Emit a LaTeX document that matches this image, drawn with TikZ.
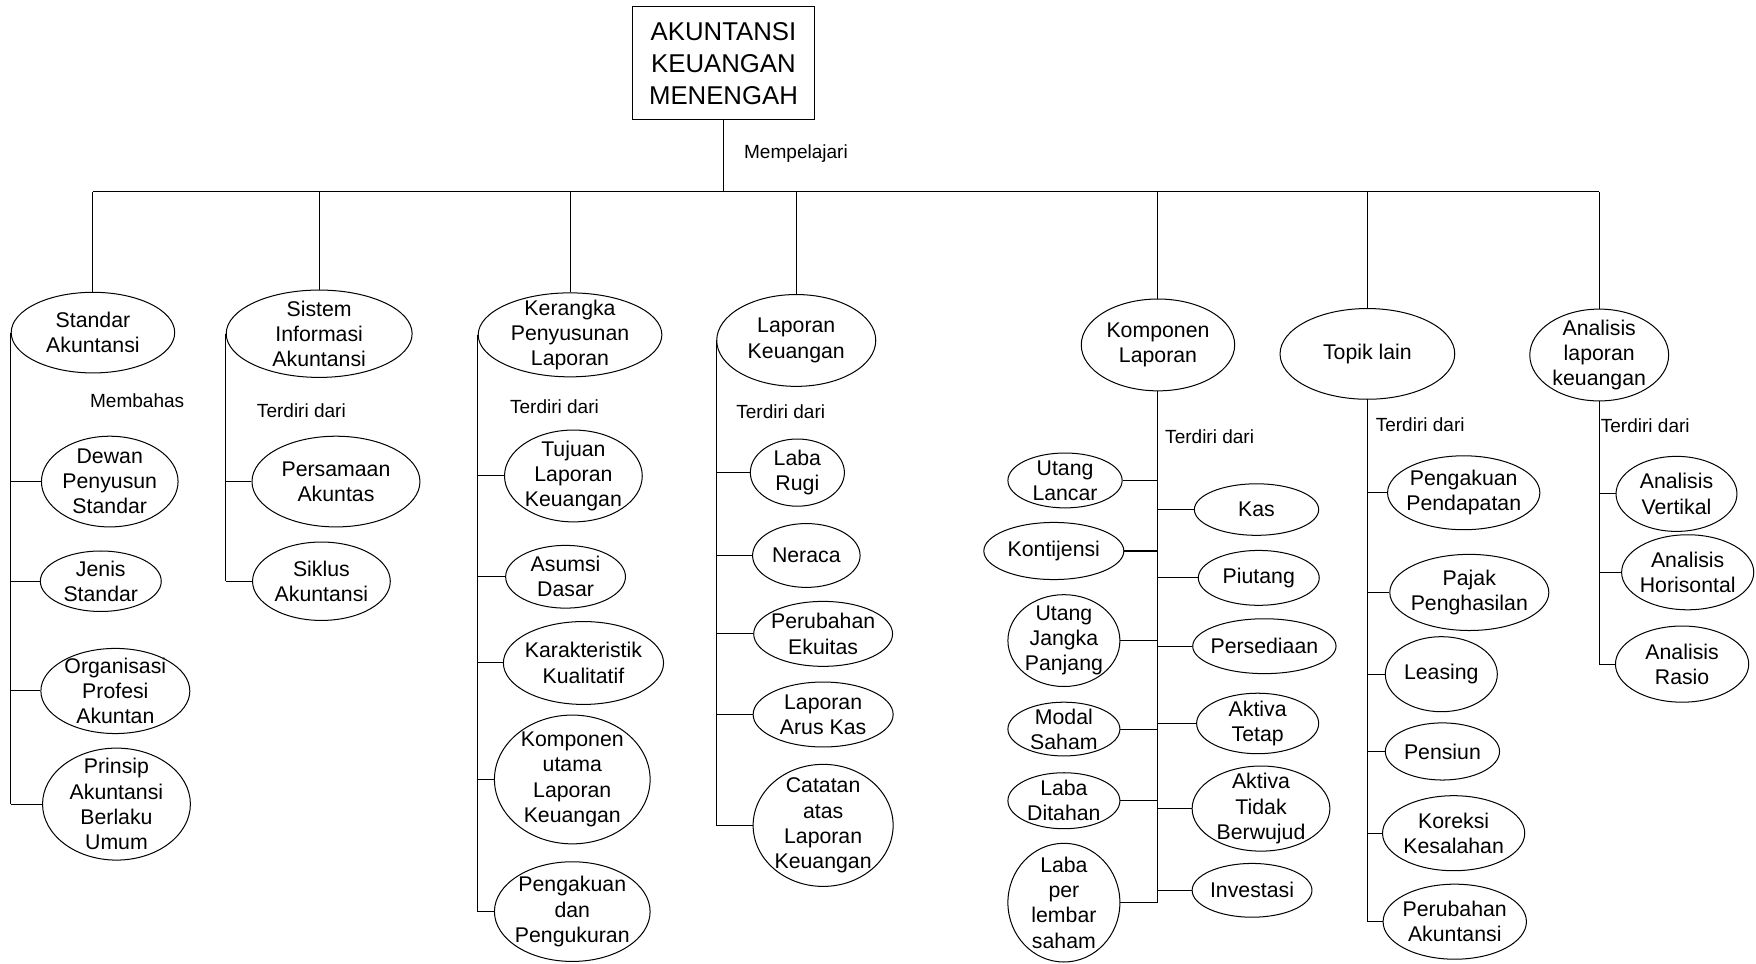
\documentclass[tikz,border=0pt]{standalone}
\usepackage{fontspec}
\setmainfont{Liberation Sans}
\usetikzlibrary{shapes.geometric}

\begin{document}
\begin{tikzpicture}[x=1pt,y=-1pt,line width=0.9pt,
	bubble/.style={shape=ellipse,draw=black,inner sep=-20pt,align=center,font=\fontsize{19}{22.5}\selectfont},
	remark/.style={anchor=west,inner sep=0pt,font=\fontsize{17}{20}\selectfont}]
	
	\useasboundingbox (0,0) rectangle (1568,860);
	
	\node[draw=black,minimum width=162pt,minimum height=101pt,inner sep=0pt,align=center,font=\fontsize{23}{28.5}\selectfont] (akm) at (646,56.5) {AKUNTANSI\\KEUANGAN\\MENENGAH};
	\coordinate (bus) at (646,171);
	\node[remark] (mp) at (664,137) {Mempelajari};
	
	\node[bubble,minimum width=146pt,minimum height=72pt] (sa) at (83,297) {Standar\\Akuntansi};
	\node[bubble,minimum width=166pt,minimum height=78pt] (sia) at (285,298) {Sistem\\Informasi\\Akuntansi};
	\node[bubble,minimum width=164pt,minimum height=75pt] (kpl) at (509,299) {Kerangka\\Penyusunan\\Laporan};
	\node[bubble,minimum width=142pt,minimum height=82pt] (lk) at (711,304) {Laporan\\Keuangan};
	\node[bubble,minimum width=137pt,minimum height=82pt] (kl) at (1034,308) {Komponen\\Laporan};
	\node[bubble,minimum width=156pt,minimum height=81pt] (tl) at (1221,316) {Topik lain};
	\node[bubble,minimum width=124pt,minimum height=82pt] (alk) at (1428,317) {Analisis\\laporan\\keuangan};
	
	\node[remark] (mb) at (80,358) {Membahas};
	\node[bubble,minimum width=122pt,minimum height=81pt] (dps) at (98,430) {Dewan\\Penyusun\\Standar};
	\node[bubble,minimum width=108pt,minimum height=54pt] (js) at (90,519) {Jenis\\Standar};
	\node[bubble,minimum width=133pt,minimum height=76pt] (opa) at (103,617) {Organisasi\\Profesi\\Akuntan};
	\node[bubble,minimum width=132pt,minimum height=100pt] (pabu) at (104,718) {Prinsip\\Akuntansi\\Berlaku\\Umum};
	
	\node[remark] (td1) at (229,367) {Terdiri dari};
	\node[bubble,minimum width=150pt,minimum height=81pt] (pa) at (300,430) {Persamaan\\Akuntas};
	\node[bubble,minimum width=123pt,minimum height=70pt] (sik) at (287,519) {Siklus\\Akuntansi};
	
	\node[remark] (td2) at (455,363) {Terdiri dari};
	\node[bubble,minimum width=123pt,minimum height=82pt] (tlk) at (512,425) {Tujuan\\Laporan\\Keuangan};
	\node[bubble,minimum width=107pt,minimum height=56pt] (ad) at (505,515) {Asumsi\\Dasar};
	\node[bubble,minimum width=143pt,minimum height=74pt] (kk) at (521,592) {Karakteristik\\Kualitatif};
	\node[bubble,minimum width=139pt,minimum height=115pt] (kulk) at (511,696) {Komponen\\utama\\Laporan\\Keuangan};
	\node[bubble,minimum width=139pt,minimum height=89pt] (pdp) at (511,814) {Pengakuan\\dan\\Pengukuran};
	
	\node[remark] (td3) at (657,368) {Terdiri dari};
	\node[bubble,minimum width=84pt,minimum height=60pt] (lr) at (712,422) {Laba\\Rugi};
	\node[bubble,minimum width=96pt,minimum height=57pt] (ner) at (720,496) {Neraca};
	\node[bubble,minimum width=124pt,minimum height=58pt] (pe) at (735,566) {Perubahan\\Ekuitas};
	\node[bubble,minimum width=125pt,minimum height=58pt] (lak) at (735,638) {Laporan\\Arus Kas};
	\node[bubble,minimum width=125pt,minimum height=109pt] (calk) at (735,737) {Catatan\\atas\\Laporan\\Keuangan};
	
	\node[remark] (td4) at (1040,390) {Terdiri dari};
	\node[bubble,minimum width=102pt,minimum height=49pt] (ul) at (951,429) {Utang\\Lancar};
	\node[bubble,minimum width=125pt,minimum height=51pt] (kon) at (941,492) {Kontijensi};
	\node[bubble,minimum width=100pt,minimum height=82pt] (ujp) at (950,572) {Utang\\Jangka\\Panjang};
	\node[bubble,minimum width=100pt,minimum height=48pt] (ms) at (950,651) {Modal\\Saham};
	\node[bubble,minimum width=100pt,minimum height=50pt] (ld) at (950,715) {Laba\\Ditahan};
	\node[bubble,minimum width=100pt,minimum height=106pt] (lpls) at (950,806) {Laba\\per\\lembar\\saham};
	\node[bubble,minimum width=111pt,minimum height=46pt] (kas) at (1122,455) {Kas};
	\node[bubble,minimum width=108pt,minimum height=49pt] (piu) at (1124,516) {Piutang};
	\node[bubble,minimum width=128pt,minimum height=49pt] (per) at (1129,577) {Persediaan};
	\node[bubble,minimum width=109pt,minimum height=54pt] (akt) at (1123,646) {Aktiva\\Tetap};
	\node[bubble,minimum width=123pt,minimum height=76pt] (atb) at (1126,722) {Aktiva\\Tidak\\Berwujud};
	\node[bubble,minimum width=107pt,minimum height=48pt] (inv) at (1118,795) {Investasi};
	
	\node[remark] (td5) at (1228,379) {Terdiri dari};
	\node[bubble,minimum width=136pt,minimum height=66pt] (pp) at (1307,440) {Pengakuan\\Pendapatan};
	\node[bubble,minimum width=142pt,minimum height=68pt] (pph) at (1312,529) {Pajak\\Penghasilan};
	\node[bubble,minimum width=100pt,minimum height=67pt] (lea) at (1287,602) {Leasing};
	\node[bubble,minimum width=102pt,minimum height=51pt] (pen) at (1288,671) {Pensiun};
	\node[bubble,minimum width=127pt,minimum height=67pt] (kor) at (1298,744) {Koreksi\\Kesalahan};
	\node[bubble,minimum width=128pt,minimum height=67pt] (pak) at (1299,823) {Perubahan\\Akuntansi};
	
	\node[remark] (td6) at (1429,380) {Terdiri dari};
	\node[bubble,minimum width=108pt,minimum height=67pt] (av) at (1497,441) {Analisis\\Vertikal};
	\node[bubble,minimum width=118pt,minimum height=67pt] (ah) at (1507,511) {Analisis\\Horisontal};
	\node[bubble,minimum width=119pt,minimum height=68pt] (ar) at (1502,593) {Analisis\\Rasio};
	
	\path[-] (akm.south) edge (bus);
	\path[-] (sa.north |- bus) edge (alk.north |- bus);
	\path[-] (sa.north) edge (sa.north |- bus);
	\path[-] (sia.north) edge (sia.north |- bus);
	\path[-] (kpl.north) edge (kpl.north |- bus);
	\path[-] (lk.north) edge (lk.north |- bus);
	\path[-] (kl.north) edge (kl.north |- bus);
	\path[-] (tl.north) edge (tl.north |- bus);
	\path[-] (alk.north) edge (alk.north |- bus);
	
	\path[-] (sa.west) edge (sa.west |- pabu.west);
	\path[-] (dps.west) edge (dps.west -| sa.west);
	\path[-] (js.west) edge (js.west -| sa.west);
	\path[-] (opa.west) edge (opa.west -| sa.west);
	\path[-] (pabu.west) edge (pabu.west -| sa.west);
	
	\path[-] (sia.west) edge (sia.west |- sik.west);
	\path[-] (pa.west) edge (pa.west -| sia.west);
	\path[-] (sik.west) edge (sik.west -| sia.west);
	
	\path[-] (kpl.west) edge (kpl.west |- pdp.west);
	\path[-] (tlk.west) edge (tlk.west -| kpl.west);
	\path[-] (ad.west) edge (ad.west -| kpl.west);
	\path[-] (kk.west) edge (kk.west -| kpl.west);
	\path[-] (kulk.west) edge (kulk.west -| kpl.west);
	\path[-] (pdp.west) edge (pdp.west -| kpl.west);
	
	\path[-] (lk.west) edge (lk.west |- calk.west);
	\path[-] (lr.west) edge (lr.west -| lk.west);
	\path[-] (ner.west) edge (ner.west -| lk.west);
	\path[-] (pe.west) edge (pe.west -| lk.west);
	\path[-] (lak.west) edge (lak.west -| lk.west);
	\path[-] (calk.west) edge (calk.west -| lk.west);
	
	\path[-] (kl.south) edge (kl.south |- lpls.east);
	\path[-] (ul.east) edge (ul.east -| kl.south);
	\path[-] (kon.east) edge (kon.east -| kl.south);
	\path[-] (ujp.east) edge (ujp.east -| kl.south);
	\path[-] (ms.east) edge (ms.east -| kl.south);
	\path[-] (ld.east) edge (ld.east -| kl.south);
	\path[-] (lpls.east) edge (lpls.east -| kl.south);
	\path[-] (kas.west) edge (kas.west -| kl.south);
	\path[-] (piu.west) edge (piu.west -| kl.south);
	\path[-] (per.west) edge (per.west -| kl.south);
	\path[-] (akt.west) edge (akt.west -| kl.south);
	\path[-] (atb.west) edge (atb.west -| kl.south);
	\path[-] (inv.west) edge (inv.west -| kl.south);
	
	\path[-] (tl.south) edge (tl.south |- pak.west);
	\path[-] (pp.west) edge (pp.west -| tl.south);
	\path[-] (pph.west) edge (pph.west -| tl.south);
	\path[-] (lea.west) edge (lea.west -| tl.south);
	\path[-] (pen.west) edge (pen.west -| tl.south);
	\path[-] (kor.west) edge (kor.west -| tl.south);
	\path[-] (pak.west) edge (pak.west -| tl.south);
	
	\path[-] (alk.south) edge (alk.south |- ar.west);
	\path[-] (av.west) edge (av.west -| alk.south);
	\path[-] (ah.west) edge (ah.west -| alk.south);
	\path[-] (ar.west) edge (ar.west -| alk.south);
	
\end{tikzpicture}
\end{document}
